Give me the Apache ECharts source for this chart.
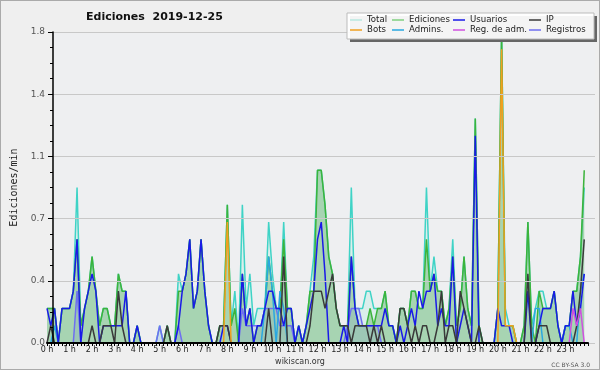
<!DOCTYPE html>
<html>
<head>
<meta charset="utf-8">
<script src="https://cdn.jsdelivr.net/npm/echarts@6/dist/echarts.min.js"></script>
<style>
html,body{margin:0;padding:0;background:#efefef;}
#c{width:598px;height:368px;border:1px solid #aaa;background:#efefef;}
</style>
</head>
<body>
<div id="c"></div>
<script>
// ---- data (edits per minute, 10-minute bins, 6 per hour) ----
const hourLabels = ['0 h','1 h','2 h','3 h','4 h','5 h','6 h','7 h','8 h','9 h','10 h','11 h',
  '12 h','13 h','14 h','15 h','16 h','17 h','18 h','19 h','20 h','21 h','22 h','23 h'];

const total = [
  0.2,0.2,0.2,0,0.2,0.2,
  0.2,0.3,0.9,0.1,0.2,0.3,
  0.5,0.3,0.1,0.2,0.2,0.1,
  0.1,0.4,0.3,0.3,0,0,
  0.1,0,0,0,0,0,
  0.1,0,0.1,0,0,0.4,
  0.3,0.4,0.6,0.2,0.3,0.6,
  0.3,0.1,0,0,0.1,0.1,
  0.8,0.1,0.3,0,0.8,0.2,
  0.4,0.1,0.2,0.2,0.2,0.7,
  0.4,0.2,0.2,0.7,0.2,0.2,
  0,0.1,0,0.1,0.3,0.5,
  1.0,1.0,0.8,0.5,0.4,0.2,
  0.1,0.1,0.1,0.9,0.2,0.2,
  0.2,0.3,0.3,0.2,0.2,0.2,
  0.3,0.1,0.1,0,0.2,0.2,
  0.1,0.3,0.3,0.2,0.2,0.9,
  0.3,0.5,0.3,0.3,0.1,0.2,
  0.6,0.1,0.2,0.5,0.2,0.1,
  1.3,0.1,0,0,0,0,
  0.2,1.8,0.2,0.1,0.1,0,
  0,0.1,0.7,0.1,0.2,0.3,
  0.3,0.2,0.2,0.3,0.1,0,
  0.1,0.1,0.3,0.3,0.5,0.9
];
const ediciones = [
  0.2,0.2,0.2,0,0.2,0.2,
  0.2,0.3,0.6,0.1,0.2,0.3,
  0.5,0.3,0.1,0.2,0.2,0.1,
  0.1,0.4,0.3,0.3,0,0,
  0.1,0,0,0,0,0,
  0,0,0.1,0,0,0.3,
  0.3,0.4,0.6,0.2,0.3,0.6,
  0.3,0.1,0,0,0.1,0.1,
  0.8,0.1,0.2,0,0.4,0.1,
  0.2,0,0.1,0.1,0.2,0.5,
  0.3,0.2,0.2,0.6,0.2,0.2,
  0,0.1,0,0.1,0.3,0.3,
  1.0,1.0,0.8,0.5,0.4,0.2,
  0.1,0.1,0.1,0.5,0.2,0.1,
  0.1,0.1,0.2,0.1,0.2,0.2,
  0.3,0.1,0.1,0,0.2,0.2,
  0.1,0.3,0.3,0.2,0.2,0.6,
  0.3,0.4,0.3,0.3,0.1,0.2,
  0.5,0.1,0.2,0.5,0.2,0.1,
  1.3,0.1,0,0,0,0,
  0.2,1.8,0.1,0.1,0.1,0,
  0,0.1,0.7,0.1,0,0.3,
  0.2,0.2,0.2,0.3,0.1,0,
  0.1,0.1,0.3,0.3,0.5,1.0
];
const usuarios = [
  0.2,0.1,0.2,0,0.2,0.2,
  0.2,0.3,0.6,0,0.2,0.3,
  0.4,0.3,0,0.1,0.1,0.1,
  0.1,0.1,0.1,0.3,0,0,
  0.1,0,0,0,0,0,
  0,0,0,0,0,0.1,
  0.3,0.4,0.6,0.2,0.3,0.6,
  0.3,0.1,0,0,0,0.1,
  0.1,0,0,0,0.4,0.1,
  0.2,0,0.1,0.1,0.2,0.3,
  0.3,0.2,0.2,0.1,0.2,0.2,
  0,0.1,0,0.1,0.2,0.3,
  0.6,0.7,0.4,0,0,0,
  0,0.1,0,0.5,0.2,0.1,
  0.1,0.1,0.1,0.1,0.1,0.1,
  0.2,0.1,0.1,0,0.1,0,
  0.1,0.2,0.1,0.3,0.2,0.3,
  0.3,0.4,0.1,0.2,0.1,0.1,
  0.5,0,0.1,0.2,0.1,0,
  1.2,0,0,0,0,0,
  0.2,0.1,0.1,0.1,0,0,
  0,0,0.3,0,0,0.1,
  0.2,0.2,0.2,0.3,0.1,0,
  0.1,0.1,0.3,0.1,0.2,0.4
];
const ip = [
  0,0.1,0,0,0,0,
  0,0,0,0,0,0,
  0.1,0,0,0.1,0.1,0.1,
  0,0.3,0.1,0,0,0,
  0,0,0,0,0,0,
  0,0,0.1,0,0,0,
  0,0,0,0,0,0,
  0,0,0,0,0.1,0.1,
  0.1,0,0,0,0,0,
  0,0,0,0,0,0.2,
  0,0,0,0.5,0,0,
  0,0,0,0,0.1,0.3,
  0.3,0.3,0.2,0.3,0.4,0.2,
  0.1,0.1,0.1,0,0.1,0.1,
  0.1,0.1,0,0.1,0,0.1,
  0,0,0,0,0.2,0.2,
  0.1,0,0.1,0,0.1,0.1,
  0,0,0.1,0.3,0,0.1,
  0.1,0,0.3,0.2,0.1,0,
  0,0.1,0,0,0,0,
  0,0,0,0,0,0,
  0,0,0.4,0,0,0.1,
  0.1,0.1,0,0,0,0,
  0,0,0,0.1,0.3,0.6
];
const bots = [
  0,0,0,0,0,0, 0,0,0,0,0,0, 0,0,0,0,0,0, 0,0,0,0,0,0,
  0,0,0,0,0,0, 0,0,0,0,0,0, 0,0,0,0,0,0, 0,0,0,0,0,0,
  0.7,0,0,0,0,0, 0,0,0,0,0,0, 0,0,0,0,0,0, 0,0,0,0,0,0,
  0,0,0,0,0,0, 0,0,0,0,0,0, 0,0,0,0,0,0, 0,0,0,0,0,0,
  0,0,0,0,0,0, 0,0,0,0,0,0, 0,0,0,0,0,0, 0,0,0,0,0,0,
  0,1.7,0.1,0.1,0.1,0, 0,0,0,0,0,0, 0,0,0,0,0,0, 0,0,0,0,0,0
];
const admins = [
  0,0,0.1,0,0,0, 0,0,0,0,0,0, 0,0,0,0,0,0, 0,0,0,0,0,0,
  0,0,0,0,0,0, 0,0,0,0,0,0, 0,0,0,0,0,0, 0,0,0,0,0,0,
  0,0,0,0,0,0, 0,0,0,0,0.2,0.5, 0.3,0,0.3,0.2,0,0, 0,0,0,0,0,0,
  0,0,0,0,0,0, 0,0,0,0,0,0, 0,0,0,0,0,0, 0,0,0,0,0,0,
  0,0,0,0,0,0, 0,0,0,0,0,0, 0,0,0,0,0,0, 0,0,0,0,0,0,
  0,0,0,0,0,0, 0,0,0,0,0.2,0.2, 0,0,0,0,0,0, 0.1,0.1,0,0,0.3,0.4
];
const regAdm = [
  0,0,0,0,0,0, 0,0,0,0,0,0, 0,0,0,0,0,0, 0,0,0,0,0,0,
  0,0,0,0,0,0, 0,0,0,0,0,0, 0,0,0,0,0,0, 0,0,0,0,0,0,
  0,0,0,0,0,0, 0,0,0,0,0,0, 0,0,0,0,0,0, 0,0,0,0,0,0,
  0,0,0,0,0,0, 0,0,0,0,0,0, 0,0,0,0,0,0, 0,0,0,0,0,0,
  0,0,0,0,0,0, 0,0,0,0,0,0, 0,0,0,0,0,0, 0,0,0,0,0,0,
  0,0,0,0,0,0, 0,0,0,0,0,0, 0,0,0,0,0,0, 0,0,0.2,0.1,0.2,0
];
const registros = [
  0,0,0,0,0,0, 0,0,0.3,0,0,0, 0,0,0,0,0,0, 0,0,0,0,0,0,
  0,0,0,0,0,0, 0.1,0,0,0,0,0.1, 0,0,0,0,0,0, 0,0,0,0,0,0,
  0,0,0,0,0.2,0.1, 0.1,0.1,0.1,0.1,0.2,0.2, 0.2,0.2,0.1,0.1,0.1,0.1, 0,0,0,0,0,0,
  0,0,0,0,0,0, 0,0,0.1,0.2,0.2,0.2, 0.1,0.1,0.1,0.1,0.1,0, 0,0,0,0,0,0,
  0,0,0,0,0,0, 0,0,0,0,0,0, 0,0,0,0,0,0, 0,0,0,0,0,0,
  0,0,0,0,0,0, 0,0,0,0,0,0, 0,0,0,0,0,0, 0,0,0,0,0,0
];

// categories: one per 10-minute bin plus the closing edge
const categories = [];
for (let h = 0; h < 24; h++) {
  for (let k = 0; k < 6; k++) categories.push(k === 0 ? hourLabels[h] : '');
}
categories.push('');

const chart = echarts.init(document.getElementById('c'), null, {renderer: 'canvas'});
const FONT = 'DejaVu Sans';

function lineSeries(name, data, color, width, z, area) {
  const s = {
    name: name, type: 'line', data: data, xAxisIndex: 1, yAxisIndex: 1,
    symbol: 'none', showSymbol: false, smooth: false, z: z,
    lineStyle: {color: color, width: width},
    itemStyle: {color: color}
  };
  if (area) s.areaStyle = {color: area, origin: 'start'};
  return s;
}

const legendFont = {fontSize: 8.6, fontFamily: FONT, color: '#222', lineHeight: 10};
function legendCol(left, items) {
  return {
    orient: 'vertical', left: left, top: 14, padding: 0,
    icon: 'rect', itemWidth: 12, itemHeight: 1.5, itemGap: 0,
    selectedMode: false, z: 30, textStyle: legendFont, data: items
  };
}

const option = {
  animation: false,
  backgroundColor: '#efefef',
  title: [
    {text: 'Ediciones  2019-12-25', left: 85, top: 11, padding: 0,
     textStyle: {fontSize: 11, fontWeight: 'bold', fontFamily: FONT, color: '#111'}},
    {text: 'wikiscan.org', left: 'center', top: 357, padding: 0,
     textStyle: {fontSize: 8, fontWeight: 'normal', fontFamily: FONT, color: '#333'}},
    {text: 'CC BY-SA 3.0', right: 9, top: 361, padding: 0,
     textStyle: {fontSize: 6, fontWeight: 'normal', fontFamily: FONT, color: '#555'}}
  ],
  legend: [
    legendCol(349, [{name: 'Total', itemStyle: {color: '#b8e8e0'}}, 'Bots']),
    legendCol(391, [{name: 'Ediciones', itemStyle: {color: '#80d080'}}, 'Admins.']),
    legendCol(452, ['Usuarios', 'Reg. de adm.']),
    legendCol(528, ['IP', 'Registros'])
  ],
  graphic: [
    {type: 'rect', z: 25, shape: {x: 349, y: 15, width: 247, height: 26}, style: {fill: '#666'}},
    {type: 'rect', z: 26, shape: {x: 346, y: 12, width: 247, height: 26},
     style: {fill: 'rgba(255,255,255,0.93)', stroke: '#bbb', lineWidth: 1}}
  ],
  grid: [
    {left: 46, right: 4, top: 31, bottom: 26, show: true, backgroundColor: '#eeeff1', borderWidth: 0},
    {left: 46, right: 11, top: 31, bottom: 26}
  ],
  xAxis: [
    {type: 'value', gridIndex: 0, min: 0, max: 1, show: false},
    {type: 'category', gridIndex: 1, data: categories, boundaryGap: false, z: 10,
     axisLine: {show: true, lineStyle: {color: '#000', width: 2}},
     axisTick: {show: true, interval: 0, length: 3, lineStyle: {color: '#000', width: 1}},
     axisLabel: {interval: 5, fontSize: 8, fontFamily: FONT, color: '#222', margin: 3},
     splitLine: {show: false}}
  ],
  yAxis: [
    {type: 'value', gridIndex: 0, min: 0, max: 1.8, interval: 0.36, z: 10,
     name: 'Ediciones/min', nameLocation: 'middle', nameGap: 34, nameRotate: 90,
     nameTextStyle: {fontSize: 10, fontFamily: 'DejaVu Sans Mono', color: '#222'},
     axisLine: {show: true, lineStyle: {color: '#000', width: 1.5}},
     axisTick: {show: true, length: 5, lineStyle: {color: '#000'}},
     minorTick: {show: true, splitNumber: 4, length: 3, lineStyle: {color: '#000'}},
     axisLabel: {fontSize: 9, fontFamily: FONT, color: '#555', margin: 8,
       formatter: function (v) { return v.toFixed(1); }},
     splitLine: {show: true, lineStyle: {color: '#c8c8c8', width: 1}}},
    {type: 'value', gridIndex: 1, min: 0, max: 1.8, interval: 0.36, show: false,
     splitLine: {show: false}}
  ],
  series: [
    lineSeries('Total', total, '#3fd3c6', 1.5, 2, 'rgba(190,238,230,0.55)'),
    lineSeries('Ediciones', ediciones, '#3cb43c', 1.5, 3, 'rgba(70,165,70,0.5)'),
    lineSeries('Registros', registros, '#6f6ff0', 1.5, 4, 'rgba(80,90,220,0.15)'),
    lineSeries('Admins.', admins, '#2aa8e0', 1.5, 5),
    lineSeries('Usuarios', usuarios, '#1a1ae8', 1.5, 6),
    lineSeries('IP', ip, '#3a3a3a', 1.5, 7),
    lineSeries('Bots', bots, '#f0a020', 1.5, 8),
    lineSeries('Reg. de adm.', regAdm, '#d050e0', 1.5, 9)
  ]
};
chart.setOption(option);
</script>
</body>
</html>
